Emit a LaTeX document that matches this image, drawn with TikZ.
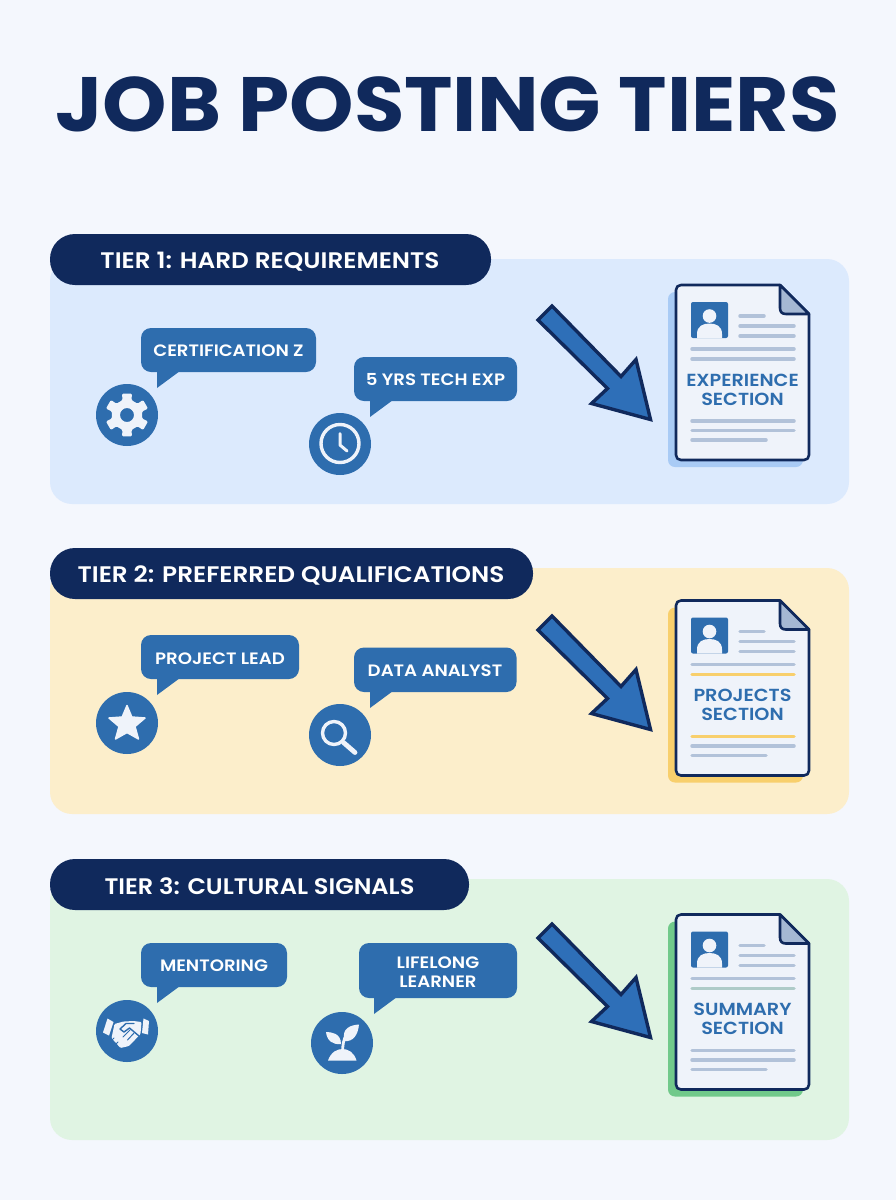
\documentclass[tikz,border=0pt]{standalone}
\usepackage{fontspec}
\setmainfont{Poppins}
\newfontfamily\tierf{Poppins SemiBold}[FakeStretch=1.1]
\newfontfamily\tierfb{Poppins SemiBold}[FakeStretch=1.07]
\newfontfamily\titlef{Poppins Bold}[FakeStretch=1.065]
\definecolor{bgc}{HTML}{F4F7FD}
\definecolor{navy}{HTML}{10295C}
\definecolor{bluec}{HTML}{2E6DAE}
\definecolor{arrowc}{HTML}{2E6FB8}
\definecolor{panA}{HTML}{DCEAFD}
\definecolor{panB}{HTML}{FCEECB}
\definecolor{panC}{HTML}{E0F4E3}
\definecolor{shA}{HTML}{A9CBF5}
\definecolor{shB}{HTML}{F8CF6C}
\definecolor{shC}{HTML}{71C98A}
\definecolor{greyl}{HTML}{B2C2D9}
\definecolor{greenl}{HTML}{AECBC8}
\definecolor{paper}{HTML}{EFF3FA}
\definecolor{foldc}{HTML}{A5B8D3}
\tikzset{
 x=1pt,y=-1pt,
 panel/.style={rounded corners=22pt,draw=none},
 pill/.style={fill=navy,rounded corners=25pt,draw=none},
 pilltext/.style={text=white,font=\fontsize{22.5}{24}\tierf,inner sep=0pt,anchor=center},
 bubtext/.style={text=white,font=\fontsize{16.5}{21}\tierf,inner sep=0pt,anchor=center,align=center},
 icon/.style={fill=bluec,draw=none},
 docline/.style={line width=3.5pt,line cap=round,draw=greyl},
 doctext/.style={text=bluec,font=\fontsize{17.5}{19}\tierf,inner sep=0pt,anchor=center,align=center},
 bigarrow/.style={fill=arrowc,draw=navy,line width=3.4pt,miter limit=10},
}
% #1 y offset, #2 shadow colour, #3 second line colour, #4 first lower line colour, #5 node name, #6 text
\newcommand{\docsheet}[6]{%
 \begin{scope}[yshift=-#1pt]
 \fill[#2,rounded corners=7pt] (668,292) -- (790,292) -- (803,320) -- (803,467) -- (668,467) -- cycle;
 \filldraw[fill=paper,draw=navy,line width=2.6pt,line join=round]
   (676,290) .. controls (676,287) and (678,285) .. (681,285) -- (780,285) -- (809,314) -- (809,455) .. controls (809,458) and (807,460) .. (804,460) -- (681,460) .. controls (678,460) and (676,458) .. (676,455) -- cycle;
 \filldraw[fill=foldc,draw=navy,line width=2.6pt,line join=round] (780,285) -- (809,314) -- (786,314) .. controls (782,314) and (780,312) .. (780,308) -- cycle;
 \fill[bluec,rounded corners=2pt] (691,302) rectangle (728,338);
 \fill[paper] (709.5,316) circle (6.8);
 \fill[paper] (697,338) -- (697,334) .. controls (697,326) and (703,323.5) .. (709.5,323.5) .. controls (716,323.5) and (722,326) .. (722,334) -- (722,338) -- cycle;
 \draw[docline] (740,316) -- (764,316);
 \draw[docline] (740,326) -- (794,326);
 \draw[docline] (740,336) -- (794,336);
 \draw[docline] (692,349) -- (794,349);
 \draw[docline,draw=#3] (692,359) -- (794,359);
 \node[doctext] (#5) at (742.5,389.5) {#6};
 \draw[docline,draw=#4] (692,421) -- (794,421);
 \draw[docline] (692,430.5) -- (794,430.5);
 \draw[docline] (692,440) -- (766,440);
 \end{scope}}
\newcommand{\bigarrowat}[1]{%
 \draw[bigarrow,yshift=-#1pt] (538,320) -- (552,306) -- (621,376.5) -- (636,359.5) -- (650.5,419.5) -- (591.5,403.5) -- (607.5,388.5) -- cycle;}
% bubble: x1,y1,x2,y2,tail x
\newcommand{\bubble}[5]{%
 \fill[bluec,rounded corners=10pt] (#1,#2) rectangle (#3,#4);
 \fill[bluec] (#5,#4-1) -- (#5,#4+16) -- (#5+23,#4-1) -- cycle;}
\begin{document}
\begin{tikzpicture}
\useasboundingbox (0,0) rectangle (896,1200);
\fill[bgc] (0,0) rectangle (896,1200);
\node[text=navy,inner sep=0pt,anchor=center,font=\fontsize{77}{80}\titlef] (title) at (447.5,104) {JOB POSTING TIERS};

% panels
\fill[panel,fill=panA] (50,259) rectangle (849,504);
\fill[panel,fill=panB] (50,568) rectangle (849,814);
\fill[panel,fill=panC] (50,879) rectangle (849,1140);
% pills
\fill[pill] (50,234) rectangle (491,285);
\fill[pill] (50,548) rectangle (533,599);
\fill[pill] (50,859) rectangle (469,910);
\node[pilltext] (p1) at (270,261.5) {TIER 1: HARD REQUIREMENTS};
\node[pilltext] (p2) at (291,575.5) {TIER 2: PREFERRED QUALIFICATIONS};
\node[pilltext,font=\fontsize{22.5}{24}\tierfb] (p3) at (259.5,886.5) {TIER 3: CULTURAL SIGNALS};

% arrows
\bigarrowat{0}
\bigarrowat{310}
\bigarrowat{618}
% documents
\docsheet{0}{shA}{greyl}{greyl}{d1}{EXPERIENCE\\SECTION}
\docsheet{315.5}{shB}{shB}{shB}{d2}{PROJECTS\\SECTION}
\docsheet{629.5}{shC}{greenl}{greyl}{d3}{SUMMARY\\SECTION}

% bubbles
\bubble{141}{328}{316}{372}{157}
\node[bubtext] (b1) at (228.5,351) {CERTIFICATION Z};
\bubble{354}{357}{517}{401}{370}
\node[bubtext] (b2) at (435.5,380) {5 YRS TECH EXP};
\bubble{141}{635}{299}{679}{157}
\node[bubtext] (b3) at (220,658.5) {PROJECT LEAD};
\bubble{354}{647.5}{516.5}{692}{370}
\node[bubtext] (b4) at (435,671) {DATA ANALYST};
\bubble{141}{943}{287}{987}{157}
\node[bubtext] (b5) at (214,966) {MENTORING};
\bubble{359}{943}{517}{998}{374}
\node[bubtext,font=\fontsize{16.5}{19.5}\tierf] (b6) at (438,972) {LIFELONG\\LEARNER};

% gear
\fill[icon] (127,415) circle (31);
\begin{scope}[shift={(127,415)}]
 \fill[paper,even odd rule,rounded corners=1.2pt]
  (13:15.5) -- (17:22) -- (43:22) -- (47:15.5) -- (73:15.5) -- (77:22) -- (103:22) -- (107:15.5) -- (133:15.5) -- (137:22) -- (163:22) -- (167:15.5) -- (193:15.5) -- (197:22) -- (223:22) -- (227:15.5) -- (253:15.5) -- (257:22) -- (283:22) -- (287:15.5) -- (313:15.5) -- (317:22) -- (343:22) -- (347:15.5) -- cycle (0,0) circle (7);
\end{scope}
% clock
\fill[icon] (340,444) circle (31);
\draw[paper,line width=3.4pt] (340,443.5) circle (19);
\draw[paper,line width=3pt,line cap=round,line join=round] (340,433.5) -- (340,445) -- (347,451);
% star
\fill[icon] (127,723) circle (31);
\fill[paper,line join=round,draw=paper,line width=1.5pt]
 (127,705.5) -- (131.8,717) -- (145,718) -- (135,726.5) -- (138.5,739) -- (127,732.5) -- (115.5,739) -- (119,726.5) -- (109,718) -- (122.2,717) -- cycle;
% magnifier
\fill[icon] (340,735) circle (31);
\draw[paper,line width=3.4pt] (334,733) circle (11.5);
\draw[paper,line width=4.8pt,line cap=round] (343.5,742.5) -- (355,752.5);
% handshake
\fill[icon] (127,1031) circle (31);
\fill[paper] (107.5,1018.5) -- (113.5,1022) -- (109,1035.5) -- (103,1032.5) -- cycle;
\fill[paper] (143.5,1018.5) -- (149,1021) -- (148,1034.5) -- (142,1033) -- cycle;
\fill[paper,rounded corners=1pt] (114.5,1024) -- (123.5,1021.5) -- (133.5,1021) -- (141.5,1022) -- (140.5,1034) -- (129,1046) -- (120.5,1048) -- (111.5,1038) -- cycle;
\draw[bluec,line width=1.4pt,line cap=round,line join=round] (134,1023.5) -- (126,1023.5) -- (120,1029) -- (124,1032) -- (129.5,1028) -- (139,1036);
\draw[bluec,line width=1pt,line cap=round] (134,1033) -- (127.5,1040) (130,1030) -- (123,1037) (114,1038) -- (111,1041) (118,1042) -- (115,1045);
% sprout
\fill[icon] (342,1043) circle (31);
\fill[paper] (328,1060.5) .. controls (331,1052) and (337,1049) .. (342.5,1049) .. controls (348,1049) and (354,1052) .. (356.5,1060.5) -- cycle;
\draw[paper,line width=2.8pt] (342.5,1052) .. controls (343,1044) and (343,1040) .. (347,1034);
\fill[paper] (326,1032) .. controls (331,1032) and (341,1033) .. (341,1044) .. controls (333,1045) and (327,1041) .. (326,1032) -- cycle;
\fill[paper] (359,1024.5) .. controls (351,1025) and (341,1028) .. (344.5,1041) .. controls (353,1042) and (358,1035) .. (359,1024.5) -- cycle;
\end{tikzpicture}
\end{document}
